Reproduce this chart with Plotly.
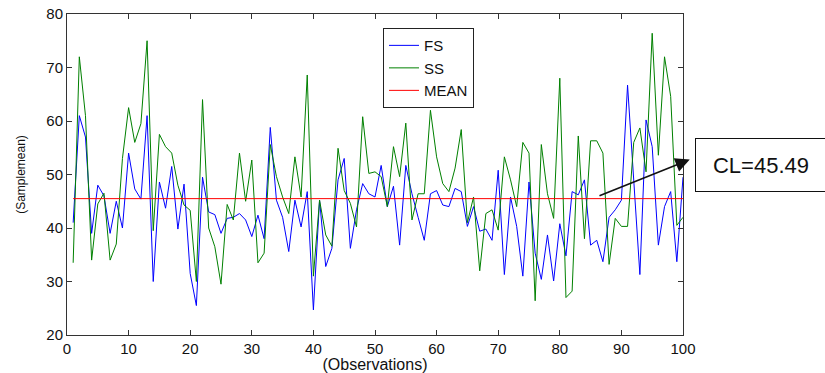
import plotly.graph_objects as go

observations = list(range(1, 101))

fs_values = [41, 61, 57, 39, 48, 46, 39, 45, 40, 54,
             47.3, 45.4, 61, 30, 48.6, 43.7, 51.5, 39.8, 48.2, 31.5,
             25.5, 49.5, 43, 42.5, 39, 41.8, 42, 42.7, 41.5, 38.4,
             42.4, 38, 58.8, 45.2, 42, 35.6, 45.2, 40.2, 46.8, 24.7,
             45.2, 32.8, 36.2, 49, 53, 36.2, 43.4, 48.3, 46.4, 45.8,
             51.7, 44, 47.8, 36.8, 51.7, 46.4, 42, 37.7, 46.4, 47,
             44.3, 44, 47.4, 46.8, 40.3, 44, 39.4, 39.8, 37.7, 50.8,
             31.3, 45.8, 40.3, 31, 48.6, 35.3, 30.4, 38.7, 30.1, 40.8,
             34.8, 46.8, 46.2, 49, 36.8, 37.7, 33.7, 42, 43.4, 45.2,
             66.7, 49, 31.3, 60.2, 55.2, 36.8, 44, 46.8, 33.7, 49.5]

ss_values = [33.5, 72, 61, 34, 44.5, 46.5, 34, 37, 53, 62.5,
             56, 59.5, 75, 39.5, 57.5, 55.2, 54, 48, 44.3, 43.3,
             30, 64, 40, 36.5, 29.5, 44.4, 41.5, 54, 45, 52.7,
             33.5, 35.3, 55.6, 49.6, 45.8, 42.7, 53.3, 45.8, 68.6, 31,
             45.2, 38.7, 36.6, 54.9, 47, 44.6, 40.2, 60.8, 50.2, 50.5,
             49.6, 44, 55.2, 49.6, 59.6, 41.5, 46.4, 46.4, 62, 53.3,
             48.3, 46.8, 51.2, 58.4, 41, 45.8, 32, 42.7, 43.4, 39.6,
             53.3, 49, 44, 56, 54, 26.4, 55.6, 46.4, 41.8, 68,
             27, 28.2, 57.2, 38, 56.3, 56.3, 54, 33.2, 41.8, 40.3,
             40.3, 56, 58.7, 50.5, 76.4, 53.6, 72, 64.6, 40.5, 42]

mean_value = 45.49
mean_values = [mean_value] * len(observations)

x_ticks = list(range(0, 101, 10))
y_ticks = list(range(20, 81, 10))

font_family = "Liberation Sans, Arial, sans-serif"

fig = go.Figure()
fig.add_trace(go.Scatter(x=observations, y=fs_values, mode="lines", name="FS",
                         line=dict(color="#0000ff", width=1)))
fig.add_trace(go.Scatter(x=observations, y=ss_values, mode="lines", name="SS",
                         line=dict(color="#008000", width=1)))
fig.add_trace(go.Scatter(x=observations, y=mean_values, mode="lines", name="MEAN",
                         line=dict(color="#ff0000", width=1)))

axis_common = dict(showgrid=False, zeroline=False, showline=True, linecolor="#333333",
                   linewidth=1, mirror="allticks", ticks="inside", ticklen=5,
                   tickcolor="#333333", automargin=False,
                   tickfont=dict(family=font_family, size=15, color="#111111"))

fig.update_xaxes(range=[0, 100], tickvals=x_ticks,
                 title=dict(text="(Observations)", font=dict(family=font_family, size=16, color="#111111"),
                            standoff=3),
                 **axis_common)
fig.update_yaxes(range=[20, 80], tickvals=y_ticks,
                 title=dict(text="(Samplemean)", font=dict(family=font_family, size=12, color="#111111"),
                            standoff=18),
                 **axis_common)

# arrow from the mean line to the CL box
fig.add_annotation(x=101.1, y=52.8, xref="x", yref="y", ax=86.2, ay=45.9, axref="x", ayref="y",
                   text="", showarrow=True, arrowhead=2, arrowsize=1.8, arrowwidth=1.6,
                   arrowcolor="#111111", standoff=0, startstandoff=0)
fig.add_annotation(x=1.1266, y=0.5296, xref="paper", yref="paper", xanchor="center", yanchor="middle",
                   text="CL=" + str(mean_value), showarrow=False,
                   font=dict(family=font_family, size=22, color="#111111"),
                   bordercolor="#111111", borderwidth=1, borderpad=2, bgcolor="white",
                   width=126, height=48)

fig.update_layout(
    width=825, height=373,
    margin=dict(l=67, r=142, t=14, b=38, autoexpand=False),
    paper_bgcolor="white", plot_bgcolor="white",
    showlegend=True,
    legend=dict(x=0.513, y=0.956, xanchor="left", yanchor="top",
                bordercolor="#222222", borderwidth=1, bgcolor="white",
                font=dict(family=font_family, size=15, color="#111111"),
                tracegroupgap=0, itemwidth=30),
)

fig.write_html("out.html", config={"displayModeBar": False},
               post_script="document.body.style.margin='0';document.body.style.overflow='hidden';")
